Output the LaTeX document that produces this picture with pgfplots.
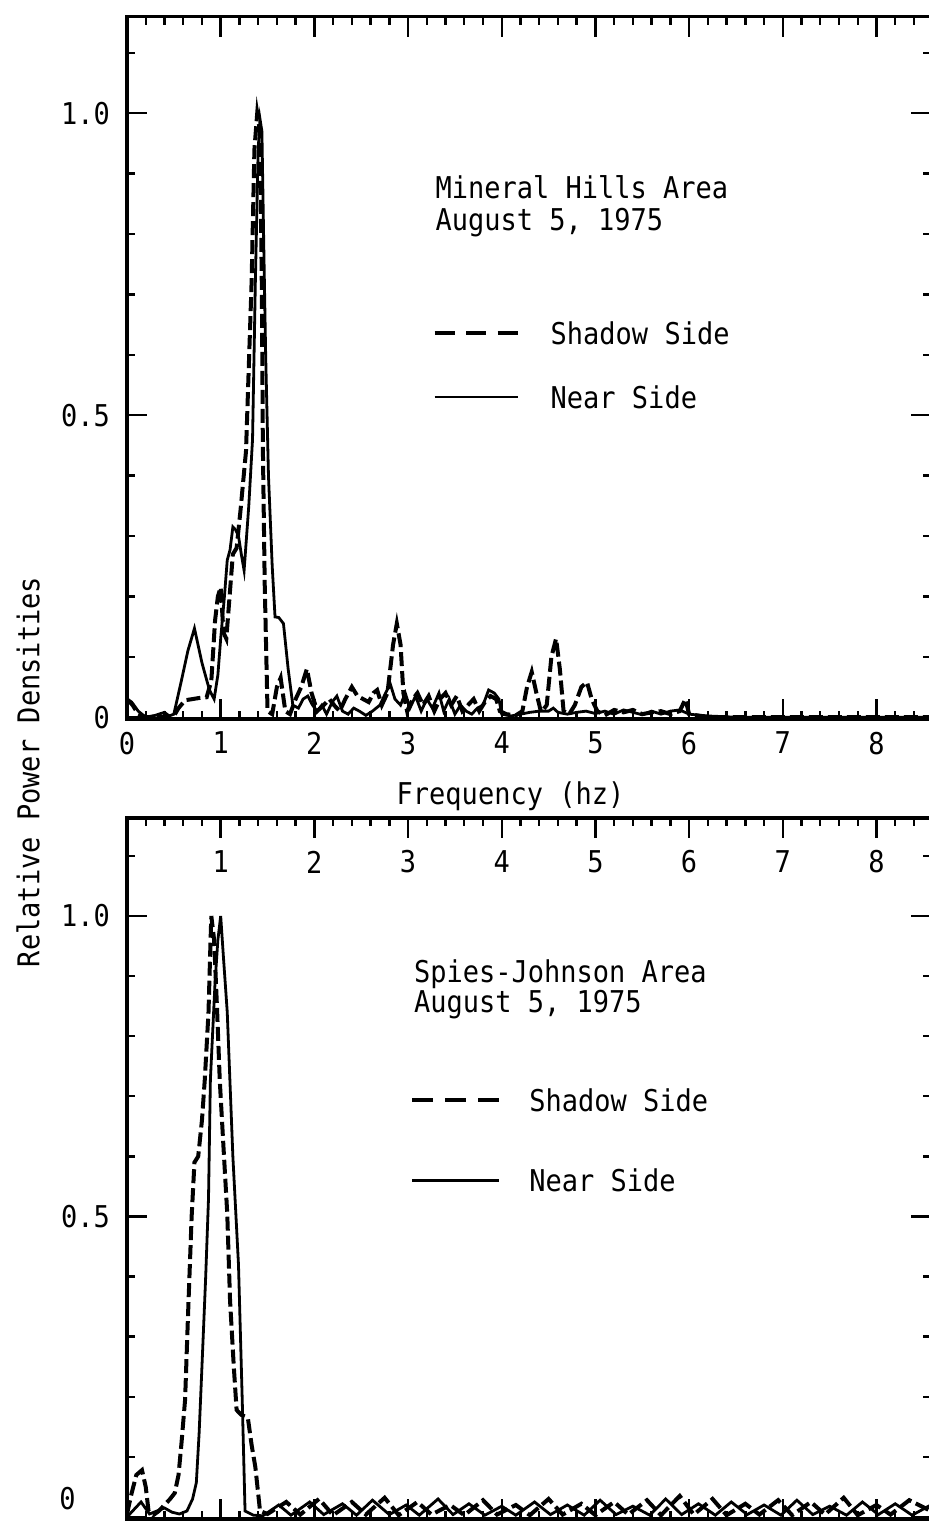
\documentclass[border=0pt]{standalone}
\usepackage{fontspec}
\setmainfont[FakeStretch=0.9]{DejaVu Sans Mono}
\usepackage{pgfplots}
\pgfplotsset{compat=1.18}
\newcommand\ff{\fontsize{15pt}{18pt}\selectfont}
\pgfplotsset{
  panel/.style={
    scale only axis, width=402pt, xmin=0, xmax=8.582,
    axis line style={line width=1.8pt},
    tick align=inside, tick pos=both,
    major tick length=10pt, minor tick length=4pt,
    tick style={black, line width=1.2pt},
    minor xtick={0.2,0.4,...,8.4},
    minor ytick={0.1,0.2,0.3,0.4,0.6,0.7,0.8,0.9,1.1},
    tick label style={font=\ff},
    yticklabel style={xshift=-5pt},
    /pgf/number format/assume math mode=true,
    legend cell align=left,
  },
  near/.style={black, line width=1.4pt, solid},
  shadow/.style={black, line width=2pt, dash pattern=on 7pt off 2.5pt},
}
\begin{document}
\begin{tikzpicture}
\path[use as bounding box] (0,0) rectangle (464pt,761pt);
\node[rotate=90, font=\ff] at (14pt,375pt) {Relative Power Densities};
% ---------------- top panel ----------------
\begin{axis}[panel,
  at={(63.5pt,401.5pt)}, anchor=south west,
  height=351.2pt, ymin=-0.003, ymax=1.16,
  xtick={0,...,8},
  xticklabel style={yshift=-3pt},
  ytick={0,0.5,1},
  yticklabels={0,0.5,1.0},
  xlabel={Frequency (hz)},
  xlabel style={font=\ff, at={(axis description cs:0.477,0)}, anchor=center, yshift=-38.5pt},
  legend style={draw=none, fill=none, inner sep=0pt,
    at={(axis cs:3.259,0.583)}, anchor=west, font=\ff, row sep=21pt,
    nodes={inner sep=0pt, text height=11pt, text depth=0pt},
    /tikz/every odd column/.append style={column sep=15.5pt}},
]
\addplot[shadow, legend image code/.code={\draw[line width=2pt, dash pattern=on 10pt off 5.75pt] (0pt,0pt) -- (41.5pt,0pt);}] coordinates {
(0,0.03) (0.06,0.02) (0.12,0.005) (0.2,0.0) (0.35,0.0) (0.5,0.002) (0.55,0.015)
(0.62,0.028) (0.70,0.03) (0.78,0.032) (0.85,0.033) (0.90,0.06) (0.94,0.16)
(0.97,0.20) (1.00,0.215) (1.03,0.14) (1.06,0.13) (1.09,0.19) (1.13,0.27)
(1.17,0.28) (1.21,0.34) (1.27,0.44) (1.33,0.72) (1.36,0.94) (1.39,1.0)
(1.42,0.97) (1.44,0.70) (1.45,0.45) (1.47,0.22) (1.50,0.01) (1.55,0.005)
(1.60,0.05) (1.64,0.065) (1.69,0.01) (1.74,0.005) (1.80,0.03) (1.86,0.05)
(1.92,0.08) (1.97,0.04) (2.03,0.01) (2.10,0.02) (2.16,0.03) (2.21,0.02)
(2.27,0.01) (2.33,0.03) (2.40,0.05) (2.46,0.035) (2.52,0.03) (2.58,0.025)
(2.63,0.04) (2.67,0.045) (2.72,0.02) (2.78,0.04) (2.84,0.12) (2.88,0.155)
(2.92,0.12) (2.95,0.04) (2.99,0.01) (3.05,0.03) (3.10,0.04) (3.16,0.02)
(3.22,0.035) (3.28,0.01) (3.34,0.03) (3.40,0.04) (3.46,0.02) (3.52,0.035)
(3.58,0.01) (3.64,0.02) (3.70,0.03) (3.76,0.01) (3.82,0.025) (3.88,0.035)
(3.94,0.03) (3.98,0.01) (4.05,0.005) (4.15,0.003) (4.22,0.01) (4.27,0.05)
(4.32,0.075) (4.37,0.04) (4.42,0.008) (4.48,0.02) (4.53,0.10) (4.58,0.13)
(4.62,0.08) (4.66,0.01) (4.72,0.005) (4.78,0.02) (4.85,0.05) (4.91,0.058)
(4.96,0.03) (5.02,0.01) (5.1,0.003) (5.2,0.012) (5.3,0.008) (5.4,0.012)
(5.5,0.005) (5.6,0.008) (5.7,0.01) (5.8,0.005) (5.9,0.01) (5.96,0.03)
(6.0,0.005) (6.2,0.0) (8.58,0.0)
};
\addlegendentry{Shadow Side}
\addplot[near, legend image code/.code={\draw[line width=1.4pt] (0pt,0pt) -- (41.5pt,0pt);}] coordinates {
(0,0.03) (0.05,0.025) (0.12,0.01) (0.2,0.0) (0.3,0.003) (0.4,0.008) (0.45,0.002)
(0.5,0.005) (0.58,0.06) (0.65,0.11) (0.72,0.147) (0.8,0.09) (0.88,0.045)
(0.93,0.03) (0.97,0.07) (1.0,0.13) (1.04,0.2) (1.07,0.26) (1.10,0.277)
(1.13,0.315) (1.16,0.31) (1.19,0.30) (1.22,0.27) (1.25,0.243) (1.30,0.35)
(1.34,0.46) (1.37,0.72) (1.40,0.94) (1.42,0.99) (1.44,0.97) (1.46,0.78)
(1.48,0.60) (1.51,0.40) (1.55,0.25) (1.58,0.166) (1.62,0.165) (1.67,0.155)
(1.72,0.08) (1.77,0.02) (1.83,0.015) (1.88,0.03) (1.93,0.035) (1.98,0.02)
(2.03,0.01) (2.08,0.02) (2.13,0.005) (2.19,0.025) (2.24,0.035) (2.30,0.01)
(2.36,0.005) (2.42,0.015) (2.48,0.01) (2.55,0.003) (2.62,0.01) (2.70,0.02)
(2.76,0.04) (2.81,0.055) (2.86,0.03) (2.92,0.02) (2.97,0.04) (3.02,0.015)
(3.08,0.035) (3.14,0.01) (3.20,0.03) (3.26,0.015) (3.33,0.04) (3.38,0.01)
(3.44,0.03) (3.50,0.005) (3.56,0.02) (3.62,0.01) (3.68,0.005) (3.74,0.015)
(3.80,0.02) (3.86,0.045) (3.92,0.04) (3.97,0.03) (4.0,0.005) (4.1,0.002)
(4.2,0.005) (4.3,0.008) (4.4,0.01) (4.5,0.01) (4.55,0.015) (4.6,0.008)
(4.7,0.005) (4.8,0.008) (4.9,0.01) (5.0,0.006) (5.1,0.01) (5.2,0.005)
(5.3,0.012) (5.4,0.008) (5.5,0.004) (5.6,0.01) (5.7,0.005) (5.8,0.01)
(5.9,0.012) (6.0,0.005) (6.2,0.002) (6.5,0.0) (8.58,0.0)
};
\addlegendentry{Near Side}
\node[font=\ff, anchor=base west, inner sep=0pt] at (axis cs:3.29,0.859) {Mineral Hills Area};
\node[font=\ff, anchor=base west, inner sep=0pt] at (axis cs:3.29,0.806) {August 5, 1975};
\end{axis}
% ---------------- bottom panel ----------------
\begin{axis}[panel,
  at={(63.5pt,1.6pt)}, anchor=south west,
  height=350.4pt, ymin=-0.003, ymax=1.163,
  xtick={1,...,8},
  xticklabel pos=right,
  xticklabel style={anchor=center, yshift=-22pt},
  ytick={0.5,1},
  yticklabels={0.5,1.0},
  extra y ticks={0},
  extra y tick labels={0},
  extra y tick style={yticklabel style={inner sep=0pt, xshift=-20.5pt, yshift=9pt}},
  legend style={draw=none, fill=none, inner sep=0pt,
    at={(axis cs:3.02,0.627)}, anchor=west, font=\ff, row sep=29pt,
    nodes={inner sep=0pt, text height=11pt, text depth=0pt},
    /tikz/every odd column/.append style={column sep=14pt}},
]
\addplot[shadow, legend image code/.code={\draw[line width=2pt, dash pattern=on 10.5pt off 6pt] (0pt,0pt) -- (43.5pt,0pt);}] coordinates {
(0,0.005) (0.05,0.04) (0.1,0.07) (0.16,0.078) (0.2,0.05) (0.23,0.01) (0.28,0.003)
(0.34,0.01) (0.40,0.02) (0.46,0.03) (0.51,0.04) (0.55,0.07) (0.58,0.12)
(0.62,0.195) (0.65,0.33) (0.69,0.50) (0.72,0.59) (0.76,0.60) (0.80,0.66)
(0.83,0.727) (0.87,0.84) (0.89,0.95) (0.90,1.0) (0.93,0.96) (0.96,0.85)
(0.99,0.727) (1.03,0.615) (1.07,0.505) (1.10,0.36) (1.14,0.25) (1.17,0.178)
(1.22,0.17) (1.29,0.165) (1.33,0.12) (1.37,0.083) (1.42,0.01)
(1.5,0.005) (1.7,0.025) (1.85,0.004) (2.05,0.03) (2.2,0.003) (2.4,0.025)
(2.55,0.004) (2.75,0.032) (2.9,0.003) (3.1,0.025) (3.25,0.004) (3.45,0.02)
(3.6,0.003) (3.8,0.028) (3.95,0.004) (4.15,0.02) (4.3,0.003) (4.5,0.03)
(4.65,0.004) (4.85,0.022) (5.0,0.003) (5.2,0.025) (5.35,0.004) (5.55,0.028)
(5.7,0.003) (5.9,0.035) (6.05,0.004) (6.25,0.03) (6.4,0.003) (6.6,0.022)
(6.75,0.004) (6.95,0.028) (7.1,0.003) (7.3,0.025) (7.45,0.004) (7.65,0.032)
(7.8,0.003) (8.0,0.02) (8.15,0.004) (8.35,0.028) (8.58,0.01)
};
\addlegendentry{Shadow Side}
\addplot[near, legend image code/.code={\draw[line width=1.4pt] (0pt,0pt) -- (43.5pt,0pt);}] coordinates {
(0,0.0) (0.06,0.01) (0.15,0.025) (0.24,0.005) (0.32,0.01) (0.40,0.015)
(0.48,0.008) (0.56,0.005) (0.64,0.01) (0.70,0.03) (0.74,0.057) (0.77,0.14)
(0.80,0.25) (0.84,0.40) (0.87,0.53) (0.89,0.727) (0.94,0.89) (0.97,0.96)
(1.00,1.0) (1.03,0.93) (1.07,0.84) (1.13,0.60) (1.19,0.42) (1.23,0.195)
(1.26,0.01) (1.35,0.003)
(1.45,0.002) (1.62,0.02) (1.75,0.003) (1.95,0.025) (2.1,0.004) (2.3,0.022)
(2.45,0.003) (2.62,0.028) (2.8,0.004) (2.98,0.02) (3.12,0.003) (3.32,0.03)
(3.48,0.004) (3.65,0.022) (3.82,0.003) (4.0,0.018) (4.15,0.003) (4.35,0.025)
(4.52,0.004) (4.7,0.02) (4.88,0.003) (5.05,0.028) (5.22,0.004) (5.4,0.018)
(5.58,0.003) (5.75,0.03) (5.92,0.004) (6.1,0.022) (6.28,0.003) (6.45,0.025)
(6.62,0.004) (6.8,0.02) (6.98,0.003) (7.15,0.028) (7.32,0.004) (7.5,0.018)
(7.68,0.003) (7.85,0.025) (8.02,0.004) (8.2,0.022) (8.38,0.003) (8.58,0.02)
};
\addlegendentry{Near Side}
\node[font=\ff, anchor=base west, inner sep=0pt] at (axis cs:3.06,0.890) {Spies-Johnson Area};
\node[font=\ff, anchor=base west, inner sep=0pt] at (axis cs:3.06,0.839) {August 5, 1975};
\end{axis}
\end{tikzpicture}
\end{document}
